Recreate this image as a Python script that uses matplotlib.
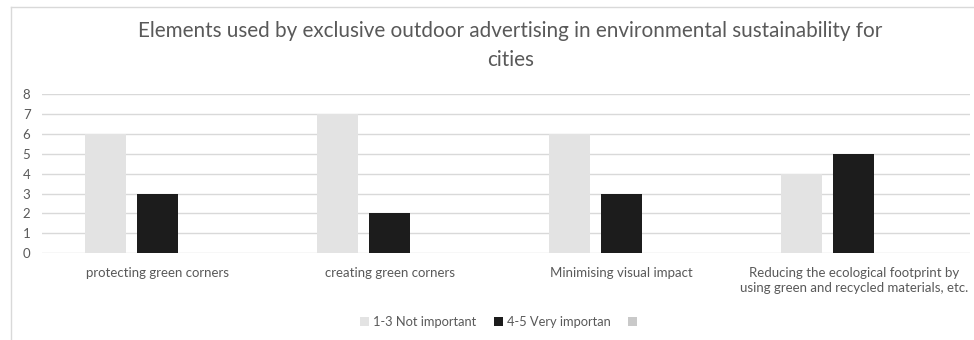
import matplotlib.pyplot as plt
from matplotlib.patches import Patch
from matplotlib.lines import Line2D
import numpy as np

categories = [
    "protecting green corners",
    "creating green corners",
    "Minimising visual impact",
    "Reducing the ecological footprint by\nusing green and recycled materials, etc.",
]
series_names = ["1-3 Not important", "4-5 Very importan", ""]
not_important = [6, 7, 6, 4]
very_important = [3, 2, 3, 5]
third_series = [0, 0, 0, 0]

colors = ["#e3e3e3", "#1c1c1c", "#c9c9c9"]
text_color = "#595959"

plt.rcParams['font.family'] = ['Lato', 'DejaVu Sans']

fig = plt.figure(figsize=(9.74, 3.40), dpi=100)
ax = fig.add_axes([41.5 / 974, 0.255, (970 - 41.5) / 974, 0.4685])

x = np.arange(len(categories))
width = 0.177
offset = 0.224
for i, (vals, col) in enumerate(zip([not_important, very_important, third_series], colors)):
    ax.bar(x + (i - 1) * offset, vals, width=width, color=col, zorder=3)

ax.set_xlim(-0.5, len(categories) - 0.5)
ax.set_ylim(0, 8)
ax.set_yticks(range(0, 9))
ax.grid(axis='y', color='#d9d9d9', linewidth=1, zorder=0)
for s in ax.spines.values():
    s.set_visible(False)
ax.tick_params(axis='both', length=0, colors=text_color, labelsize=9.5)
ax.tick_params(axis='y', pad=8)
ax.tick_params(axis='x', pad=10)
ax.set_xticks(x)
ax.set_xticklabels(categories, linespacing=1.25)

title_kw = dict(ha='center', va='center', fontsize=14.9, color=text_color)
fig.text(0.524, 0.91, "Elements used by exclusive outdoor advertising in environmental sustainability for",
         **title_kw)
fig.text(0.524, 0.825, "cities", **title_kw)

handles = [Patch(facecolor=c, edgecolor='none') for c in colors]
fig.legend(handles, series_names, loc='center', bbox_to_anchor=(0.514, 0.052), ncol=3,
           frameon=False, fontsize=9.3, labelcolor=text_color, handlelength=0.7,
           handleheight=0.7, handletextpad=0.3, columnspacing=1.35)

# outer chart frame
fig.add_artist(Line2D([11 / 974, 11 / 974], [0, 1 - 7 / 340], color='#d9d9d9', lw=1))
fig.add_artist(Line2D([11 / 974, 1], [1 - 7 / 340, 1 - 7 / 340], color='#d9d9d9', lw=1))

fig.savefig("out.png", dpi=100)
